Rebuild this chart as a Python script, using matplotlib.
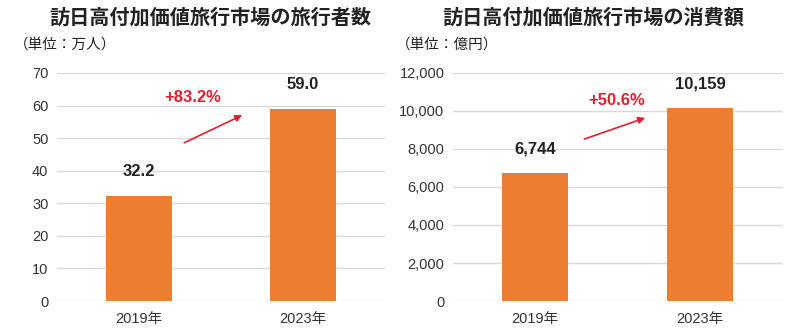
import matplotlib
matplotlib.use('Agg')
import matplotlib.pyplot as plt
from matplotlib.ticker import FuncFormatter

plt.rcParams['font.family'] = ['Liberation Sans', 'Noto Sans CJK JP', 'DejaVu Sans']

years = ['2019年', '2023年']
travelers = [32.2, 59.0]
spending = [6744, 10159]
traveler_labels = ['32.2', '59.0']
spending_labels = ['6,744', '10,159']
growth = ['+83.2%', '+50.6%']

orange = '#ED7D31'
red = '#E0202E'
grid = '#D9D9D9'
txt = '#222222'

fig = plt.figure(figsize=(8, 3.33), dpi=100)
ax1 = fig.add_axes([0.071, 0.096, 0.41, 0.685])
ax2 = fig.add_axes([0.566, 0.096, 0.4125, 0.685])


def style(ax, ymax, step, fmt):
    ax.set_xlim(-0.5, 1.5)
    ax.set_ylim(0, ymax)
    ax.set_yticks(range(0, ymax + 1, step))
    ax.yaxis.set_major_formatter(FuncFormatter(fmt))
    ax.grid(axis='y', color=grid, linewidth=1)
    ax.set_axisbelow(True)
    for s in ax.spines.values():
        s.set_visible(False)
    ax.tick_params(axis='both', length=0, labelsize=10.5, colors='#333333')
    ax.tick_params(axis='y', pad=6)
    ax.tick_params(axis='x', pad=8)


def bars(ax, vals, labels):
    x = range(len(vals))
    ax.bar(x, vals, width=0.4, color=orange, zorder=2)
    ax.set_xticks(list(x))
    ax.set_xticklabels(years)
    for xi, v, lab in zip(x, vals, labels):
        ax.annotate(lab, (xi, v), xytext=(0, 12), textcoords='offset points',
                    ha='center', va='bottom', fontsize=12, fontweight='bold', color=txt)


style(ax1, 70, 10, lambda v, p: '%d' % v)
bars(ax1, travelers, traveler_labels)
ax1.annotate('', xy=(0.646, 57.4), xytext=(0.262, 48.2),
             arrowprops=dict(arrowstyle='-|>', color=red, lw=1.2, mutation_scale=10))
ax1.text(0.33, 62.6, growth[0], ha='center', va='center', fontsize=12,
         fontweight='bold', color=red)

style(ax2, 12000, 2000, lambda v, p: '{:,.0f}'.format(v))
bars(ax2, spending, spending_labels)
ax2.annotate('', xy=(0.682, 9684), xytext=(0.282, 8474),
             arrowprops=dict(arrowstyle='-|>', color=red, lw=1.2, mutation_scale=10))
ax2.text(0.49, 10526, growth[1], ha='center', va='center', fontsize=12,
         fontweight='bold', color=red)

fig.text(210 / 800, 1 - 17 / 333, '訪日高付加価値旅行市場の旅行者数', ha='center', va='center',
         fontsize=14.5, fontweight='bold', color=txt, family=['Noto Sans CJK JP'])
fig.text(593 / 800, 1 - 17 / 333, '訪日高付加価値旅行市場の消費額', ha='center', va='center',
         fontsize=14.5, fontweight='bold', color=txt, family=['Noto Sans CJK JP'])
fig.text(14 / 800, 1 - 45 / 333, '（単位：万人）', ha='left', va='center',
         fontsize=10.5, color=txt, family=['Noto Sans CJK JP'])
fig.text(396 / 800, 1 - 45 / 333, '（単位：億円）', ha='left', va='center',
         fontsize=10.5, color=txt, family=['Noto Sans CJK JP'])

fig.savefig('out.png', dpi=100)
